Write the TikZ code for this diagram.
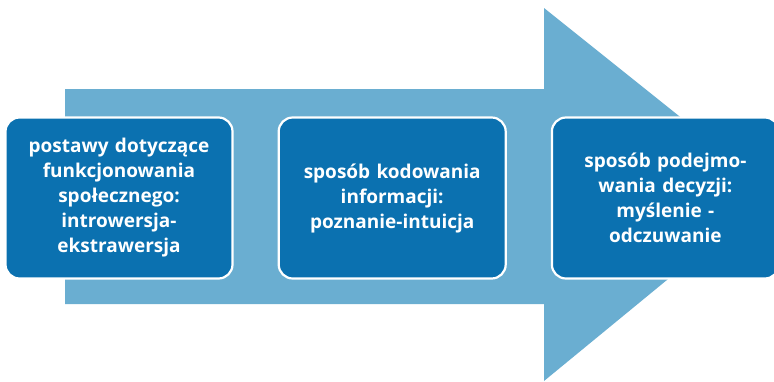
\documentclass[tikz,border=0pt]{standalone}
\usepackage{fontspec}
\setsansfont{Open Sans}
\usetikzlibrary{positioning}
\definecolor{flowArrow}{RGB}{106,174,209}
\definecolor{flowBox}{RGB}{11,113,176}
\tikzset{
  flowbox/.style={
    draw=white,
    line width=2.2pt,
    rounded corners=14pt,
    fill=flowBox,
    align=center,
    text=white,
    minimum width=227pt,
    minimum height=161pt,
    text width=210pt,
    font=\sffamily\bfseries\fontsize{19}{25}\selectfont
  }
}

\begin{document}
\begin{tikzpicture}[x=1pt,y=-1pt]
  \useasboundingbox (0,0) rectangle (774,381);
  % background arrow
  \fill[flowArrow] (65,89) -- (544,89) -- (544,8) -- (774,192) -- (544,381)
    -- (544,304) -- (65,304) -- cycle;

  \node[flowbox] (attitude) at (119,198)
    {postawy dotyczące\\funkcjonowania\\społecznego:\\introwersja-\\ekstrawersja};
  \node[flowbox, right=44pt of attitude] (coding)
    {sposób kodowania\\informacji:\\poznanie-intuicja};
  \node[flowbox, right=44pt of coding] (decision)
    {sposób podejmo-\\wania decyzji:\\myślenie -\\odczuwanie};
\end{tikzpicture}
\end{document}
